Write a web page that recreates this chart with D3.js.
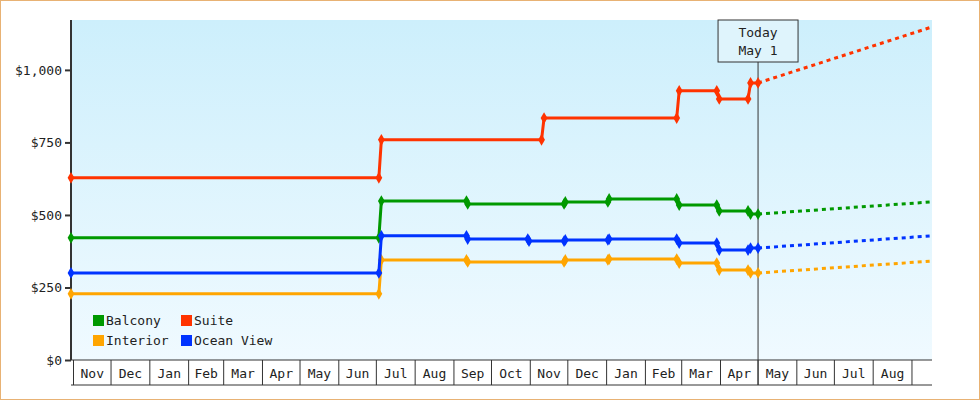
<!DOCTYPE html>
<html><head><meta charset="utf-8">
<script src="https://cdn.jsdelivr.net/npm/d3@7"></script>
<style>body{margin:0;background:#fff}text{font-family:"DejaVu Sans Mono",monospace;font-size:13px;fill:#222}</style>
</head><body><svg id="chart" width="980" height="400"></svg>
<script>
const seriesNames = ['Balcony', 'Suite', 'Interior', 'Ocean View'];
const seriesColors = ['#009900', '#ff3300', '#ffa500', '#0033ff'];
const monthLabels = ['Nov','Dec','Jan','Feb','Mar','Apr','May','Jun','Jul','Aug','Sep','Oct','Nov','Dec','Jan','Feb','Mar','Apr','May','Jun','Jul','Aug'];
const yTicks = [0, 250, 500, 750, 1000];

const suite = [['2022-10-30',628],['2023-07-03',628],['2023-07-05',759],['2023-11-10',759],['2023-11-12',834],
  ['2024-02-26',834],['2024-02-28',928],['2024-03-29',928],['2024-03-31',900],['2024-04-23',900],['2024-04-25',955],['2024-05-01',955]];
const balcony = [['2022-10-30',421],['2023-07-03',421],['2023-07-05',548],['2023-09-11',548],['2023-09-12',538],
  ['2023-11-28',538],['2023-11-29',545],['2024-01-02',545],['2024-01-03',555],['2024-02-26',555],['2024-02-28',534],
  ['2024-03-29',534],['2024-03-31',514],['2024-04-23',514],['2024-04-25',503],['2024-05-01',503]];
const oceanView = [['2022-10-30',300],['2023-07-03',300],['2023-07-05',428],['2023-09-11',428],['2023-09-12',417],
  ['2023-10-30',417],['2023-10-31',410],['2023-11-28',410],['2023-11-29',414],['2024-01-02',414],['2024-01-03',417],
  ['2024-02-26',417],['2024-02-28',403],['2024-03-29',403],['2024-03-31',379],['2024-04-23',379],['2024-04-25',386],['2024-05-01',386]];
const interior = [['2022-10-30',228],['2023-07-03',228],['2023-07-05',345],['2023-09-11',345],['2023-09-12',338],
  ['2023-11-28',338],['2023-11-29',345],['2024-01-02',345],['2024-01-03',348],['2024-02-26',348],['2024-02-28',334],
  ['2024-03-29',334],['2024-03-31',310],['2024-04-23',310],['2024-04-25',300],['2024-05-01',300]];
const forecastEnd = '2024-09-17';
const forecast = {Balcony: 545, Suite: 1148, Interior: 341, 'Ocean View': 428};
const seriesData = {Balcony: balcony, Suite: suite, Interior: interior, 'Ocean View': oceanView};

const parse = d3.timeParse('%Y-%m-%d');
const svg = d3.select('#chart');
const L = 71, R = 932, T = 20, B = 360;

const x = d3.scaleTime().domain([parse('2022-10-30'), parse(forecastEnd)]).range([L, R]);
const y = d3.scaleLinear().domain([0, 1172]).range([B, T]);
const color = d3.scaleOrdinal().domain(seriesNames).range(seriesColors);

const grad = svg.append('defs').append('linearGradient').attr('id','bg').attr('x1',0).attr('x2',0).attr('y1',0).attr('y2',1);
grad.append('stop').attr('offset','0%').attr('stop-color','#cdeffc');
grad.append('stop').attr('offset','100%').attr('stop-color','#f0faff');

svg.append('rect').attr('x',0.5).attr('y',0.5).attr('width',979).attr('height',399).attr('fill','#fff').attr('stroke','#e8b274');
svg.append('rect').attr('x',L).attr('y',T).attr('width',R-L).attr('height',B-T).attr('fill','url(#bg)');

// month cells
const months = d3.timeMonths(parse('2022-11-01'), parse('2024-09-01'));
const cells = svg.append('g');
months.forEach((m, i) => {
  const x0 = x(m), x1 = x(d3.timeMonth.offset(m, 1));
  cells.append('line').attr('x1',x0).attr('x2',x0).attr('y1',B).attr('y2',385).attr('stroke','#333');
  cells.append('text').attr('x',(x0+x1)/2).attr('y',378).attr('text-anchor','middle').text(monthLabels[i]);
});
cells.append('line').attr('x1',x(parse('2024-09-01'))).attr('x2',x(parse('2024-09-01'))).attr('y1',B).attr('y2',385).attr('stroke','#333');
cells.append('line').attr('x1',L).attr('x2',R).attr('y1',385).attr('y2',385).attr('stroke','#333');
cells.append('line').attr('x1',L).attr('x2',R).attr('y1',B).attr('y2',B).attr('stroke','#333');

// y axis
const yAxis = svg.append('g').attr('transform',`translate(${L},0)`)
  .call(d3.axisLeft(y).tickValues(yTicks).tickSize(6).tickFormat(d => '$' + d3.format(',')(d)));
yAxis.select('.domain').attr('d', `M0,${T}V${B}`).attr('stroke','#333').attr('stroke-width',2);
yAxis.selectAll('.tick line').attr('stroke','#333').attr('stroke-width',2);
yAxis.selectAll('.tick text').style('font-family','"DejaVu Sans Mono",monospace').style('font-size','13px').attr('fill','#222');

// today marker
const today = parse('2024-05-01');
svg.append('line').attr('x1',x(today)).attr('x2',x(today)).attr('y1',62).attr('y2',385).attr('stroke','#333');
svg.append('rect').attr('x',x(today)-40).attr('y',T).attr('width',80).attr('height',42).attr('fill','#dff4fc').attr('stroke','#333');
svg.append('text').attr('x',x(today)).attr('y',37).attr('text-anchor','middle').text('Today');
svg.append('text').attr('x',x(today)).attr('y',55).attr('text-anchor','middle').text('May 1');

const line = d3.line().x(d => x(parse(d[0]))).y(d => y(d[1]));
const drawOrder = ['Suite','Balcony','Interior','Ocean View'];
drawOrder.forEach(name => {
  const data = seriesData[name], c = color(name), last = data[data.length-1];
  svg.append('path').datum([last, [forecastEnd, forecast[name]]]).attr('d', line)
    .attr('fill','none').attr('stroke',c).attr('stroke-width',3).attr('stroke-dasharray','4,4');
  svg.append('path').datum(data).attr('d', line).attr('fill','none').attr('stroke',c).attr('stroke-width',3);
  svg.append('g').selectAll('path').data(data).join('path')
    .attr('d', d3.symbol(d3.symbolDiamond, 40))
    .attr('transform', d => `translate(${x(parse(d[0]))},${y(d[1])})`).attr('fill',c);
});

// legend
const legend = svg.append('g');
seriesNames.forEach((name, i) => {
  const lx = 93 + (i % 2) * 88, ly = 315 + Math.floor(i / 2) * 20;
  legend.append('rect').attr('x',lx).attr('y',ly).attr('width',11).attr('height',11).attr('fill',color(name));
  legend.append('text').attr('x',lx+13).attr('y',ly+10).text(name);
});
</script></body></html>
